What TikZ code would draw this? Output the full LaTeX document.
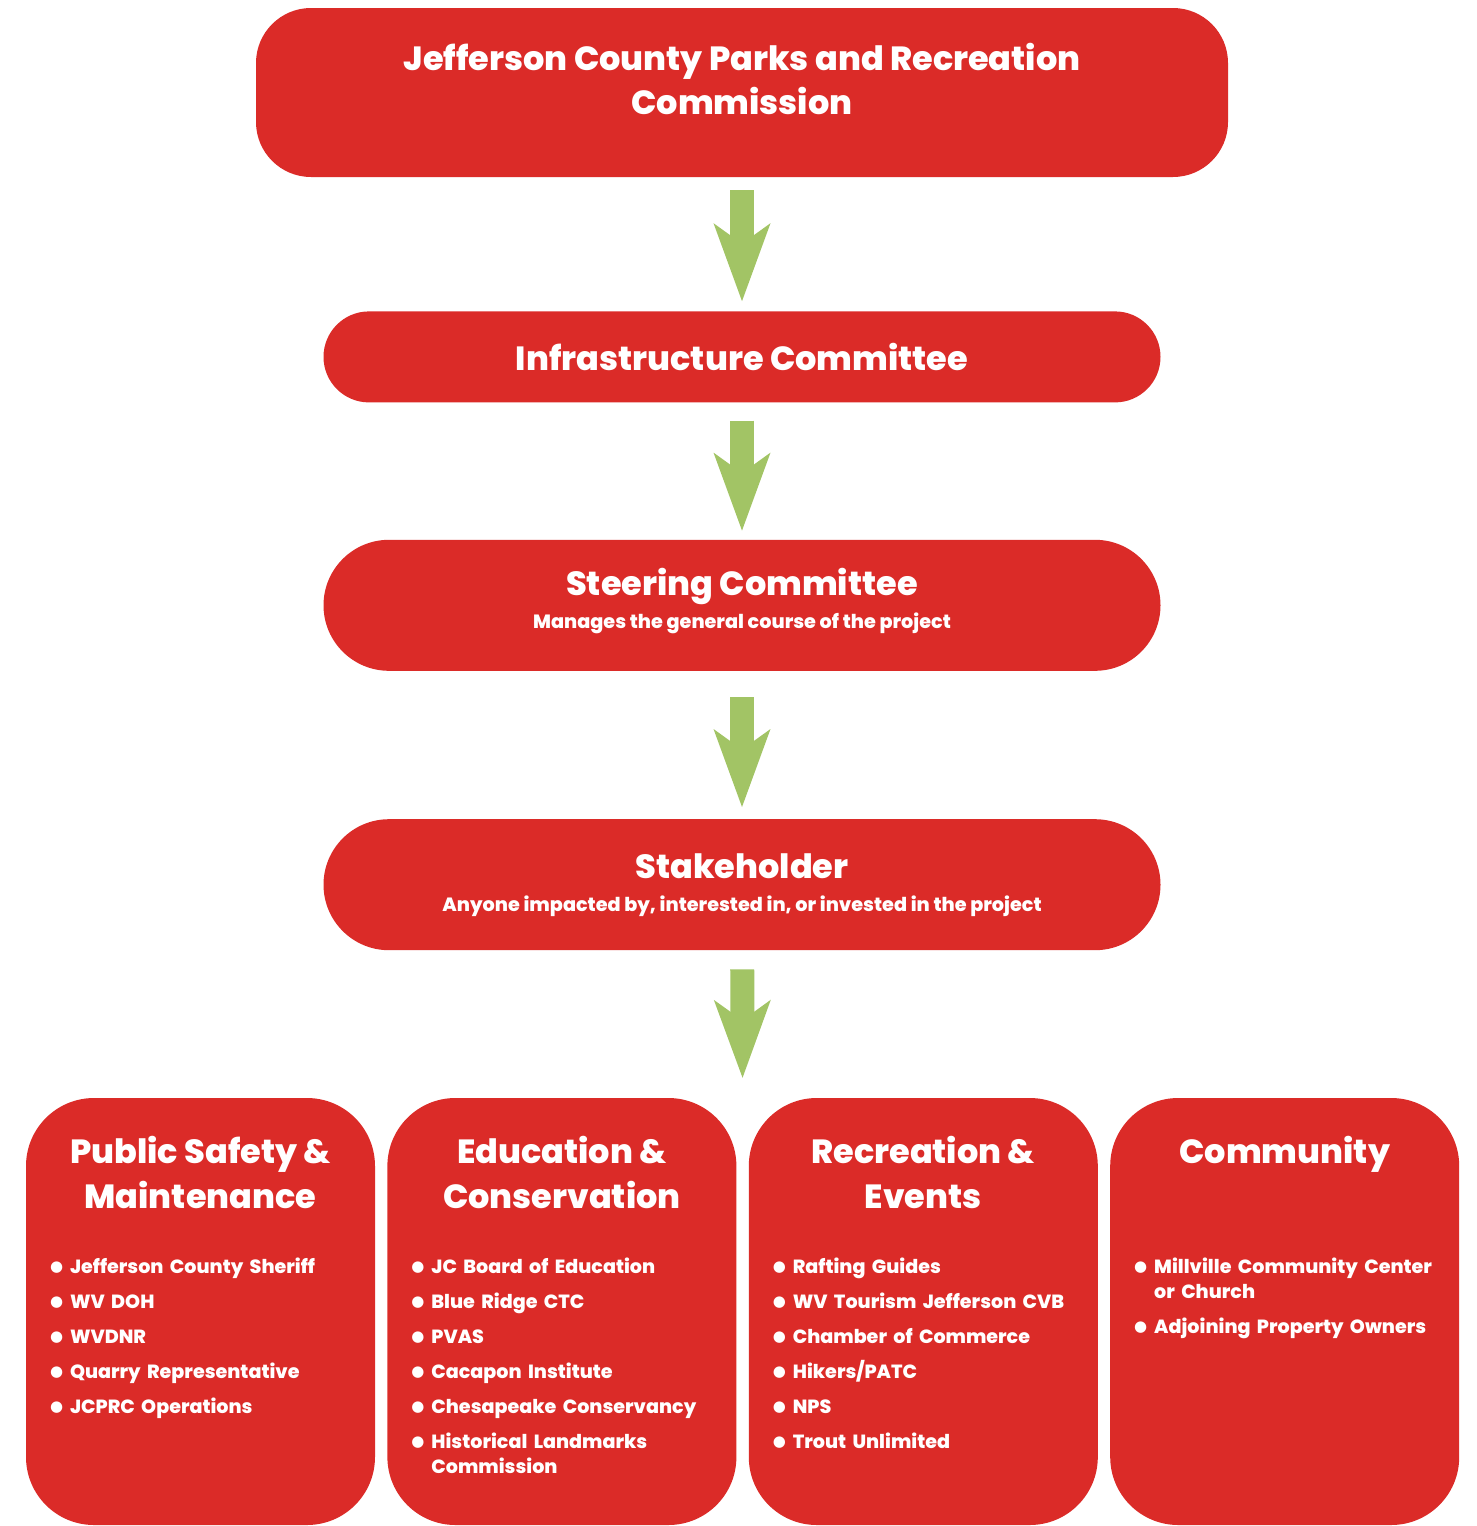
\documentclass[tikz,border=0pt]{standalone}
\usepackage{fontspec}
\setmainfont{Poppins}[BoldFont={Poppins ExtraBold}]
\newfontfamily\dotfont{DejaVu Sans}
\usetikzlibrary{arrows.meta,positioning,calc}

\definecolor{jcred}{HTML}{DB2B28}
\definecolor{jcgreen}{HTML}{A2C465}

% one bullet line of a group list
\newcommand{\listentry}[1]{\par\hangindent=20pt\hangafter=1\noindent\makebox[20pt][l]{\raisebox{1.5pt}{\dotfont\fontsize{15}{0}\selectfont ●}}#1\par}

\begin{document}
\begin{tikzpicture}[
  x=1pt, y=1pt,
  node distance=12pt and 12pt,
  panel/.style={rectangle, fill=jcred, text=white, align=center, inner sep=0pt, font=\bfseries\fontsize{33.5}{44}\selectfont},
  pill/.style={panel, minimum width=837pt},
  group/.style={panel, minimum width=349pt, minimum height=427pt, rounded corners=68pt},
  grouphead/.style={text=white, align=center, inner sep=0pt, font=\bfseries\fontsize{33.5}{45}\selectfont},
  grouplist/.style={text=white, align=left, inner sep=0pt, text width=320pt, font=\bfseries\fontsize{19.1}{25}\selectfont\setlength{\parskip}{10pt}},
  flow/.style={draw=jcgreen, line width=24pt, -{Stealth[length=78pt, width=57pt, inset=20.5pt, line width=0pt]}}
]
\useasboundingbox (0,0) rectangle (1477,-1526);

\node[panel, minimum width=972pt, minimum height=169pt, rounded corners=55pt, text depth=28pt] (commission) at (742,-92.5) {Jefferson County Parks and Recreation\\Commission};
\node[pill, minimum height=91pt, rounded corners=45.5pt, below=134pt of commission] (infra) {Infrastructure Committee};
\node[pill, minimum height=131pt, rounded corners=65.5pt, below=137pt of infra, text depth=13pt] (steering) {Steering Committee\\[-11pt]{\fontsize{19.2}{22}\selectfont Manages the general course of the project}};
\node[pill, minimum height=131pt, rounded corners=65.5pt, below=148pt of steering] (stake) {Stakeholder\\[-11pt]{\fontsize{19.2}{22}\selectfont Anyone impacted by, interested in, or invested in the project}};

% the four stakeholder groups
\node[group] (safety) at (200.5,-1311.5) {};
\node[group, right=of safety] (edu) {};
\node[group, right=of edu] (rec) {};
\node[group, right=of rec] (community) {};

\node[grouphead, below=38pt of safety.north] (safetyhead) {Public Safety \&\\Maintenance};
\node[grouphead, below=38pt of edu.north] (eduhead) {Education \&\\Conservation};
\node[grouphead, below=38pt of rec.north] (rechead) {Recreation \&\\Events};
\node[grouphead, below=38pt of community.north] (communityhead) {Community};

\node[grouplist, below right=140pt and 24pt of safety.north west] (safetylist) {%
  \listentry{Jefferson County Sheriff}
  \listentry{WV DOH}
  \listentry{WVDNR}
  \listentry{Quarry Representative}
  \listentry{JCPRC Operations}};
\node[grouplist, below right=140pt and 24pt of edu.north west] (edulist) {%
  \listentry{JC Board of Education}
  \listentry{Blue Ridge CTC}
  \listentry{PVAS}
  \listentry{Cacapon Institute}
  \listentry{Chesapeake Conservancy}
  \listentry{Historical Landmarks\break Commission}};
\node[grouplist, below right=140pt and 24pt of rec.north west] (reclist) {%
  \listentry{Rafting Guides}
  \listentry{WV Tourism Jefferson CVB}
  \listentry{Chamber of Commerce}
  \listentry{Hikers/PATC}
  \listentry{NPS}
  \listentry{Trout Unlimited}};
\node[grouplist, below right=140pt and 24pt of community.north west] (communitylist) {%
  \listentry{Millville Community Center\break or Church}
  \listentry{Adjoining Property Owners}};

\coordinate (fork) at ($(edu.north east)!0.5!(rec.north west)$);

\draw[flow, shorten <=13pt, shorten >=10pt] (commission) -- (infra);
\draw[flow, shorten <=18pt, shorten >=9pt] (infra) -- (steering);
\draw[flow, shorten <=26pt, shorten >=12pt] (steering) -- (stake);
\draw[flow, shorten <=19pt, shorten >=20pt] (stake) -- (fork);
\end{tikzpicture}
\end{document}
